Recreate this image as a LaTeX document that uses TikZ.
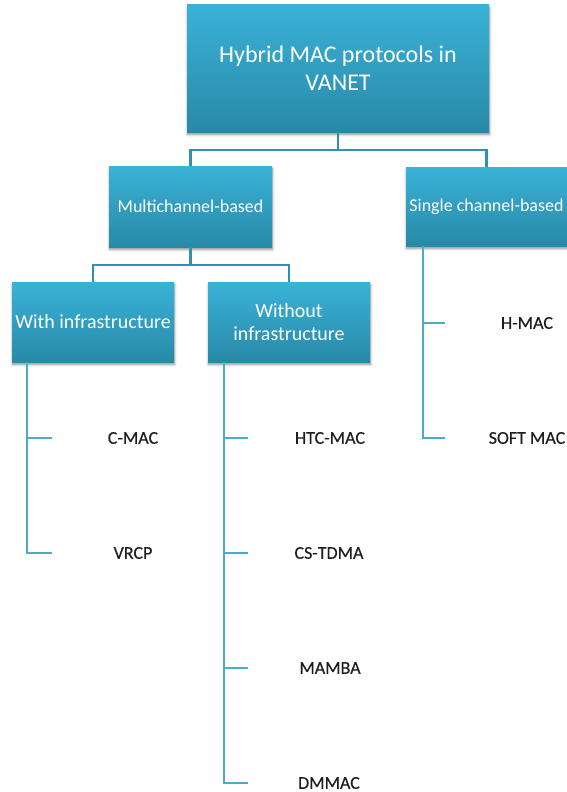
\documentclass[tikz,border=0pt]{standalone}
\usepackage{fontspec}
\setmainfont{Carlito}
\newfontfamily\leaffont[FakeBold=0.35]{Carlito}
\usetikzlibrary{shadows.blur}

\definecolor{boxtop}{RGB}{58,178,216}
\definecolor{boxbottom}{RGB}{40,137,167}
\definecolor{treeline}{RGB}{46,146,176}
\definecolor{leafline}{RGB}{75,172,198}
\definecolor{leaftext}{RGB}{30,30,30}

\tikzset{
  catbox/.style={rectangle, inner sep=2pt, align=center, text=white,
    top color=boxtop, bottom color=boxbottom,
    blur shadow={shadow xshift=0.5pt, shadow yshift=-2.5pt,
      shadow blur radius=2.5pt, shadow blur steps=6, shadow opacity=45}},
  treelink/.style={draw=treeline, line width=2.2pt},
  leaflink/.style={draw=leafline, line width=2pt},
  leaf/.style={text=leaftext, font=\leaffont\fontsize{18}{22}\selectfont, inner sep=0pt},
}

\begin{document}
\begin{tikzpicture}[x=1pt, y=-1pt]
\useasboundingbox (0,0) rectangle (567,792);

% root and category boxes
\node[catbox, minimum width=302pt, minimum height=127pt,
      font=\fontsize{24}{28}\selectfont] (root) at (338,68.5)
      {Hybrid MAC protocols in\\VANET};
\node[catbox, minimum width=163pt, minimum height=81pt,
      font=\fontsize{18}{22}\selectfont] (multi) at (190.5,206.5)
      {Multichannel-based};
\node[catbox, minimum width=161pt, minimum height=79pt,
      font=\fontsize{18}{22}\selectfont] (single) at (486.5,206.5)
      {Single channel-based};
\node[catbox, minimum width=162pt, minimum height=80pt,
      font=\fontsize{20}{24}\selectfont] (withinf) at (93,322)
      {With infrastructure};
\node[catbox, minimum width=162pt, minimum height=80pt,
      font=\fontsize{20}{23}\selectfont] (without) at (289,322)
      {Without\\infrastructure};

% tree connectors
\draw[treelink] (root.south) -- ++(0,18) -| (multi.north);
\draw[treelink] (root.south) -- ++(0,18) -| (single.north);
\draw[treelink] (multi.south) -- ++(0,18) -| (withinf.north);
\draw[treelink] (multi.south) -- ++(0,18) -| (without.north);

% protocol leaves
\node[leaf] (cmac)   at (133,438) {C-MAC};
\node[leaf] (vrcp)   at (133,553) {VRCP};
\node[leaf] (htc)    at (330,438) {HTC-MAC};
\node[leaf] (cstdma) at (329,553) {CS-TDMA};
\node[leaf] (mamba)  at (330,668) {MAMBA};
\node[leaf] (dmmac)  at (329,783) {DMMAC};
\node[leaf] (hmac)   at (527,323) {H-MAC};
\node[leaf] (soft)   at (527,438) {SOFT MAC};

% tick ends of the leaf brackets
\coordinate (cmacT)   at (52,438);
\coordinate (vrcpT)   at (52,553);
\coordinate (htcT)    at (248,438);
\coordinate (cstdmaT) at (248,553);
\coordinate (mambaT)  at (248,668);
\coordinate (dmmacT)  at (248,783);
\coordinate (hmacT)   at (445,323);
\coordinate (softT)   at (445,438);

% leaf brackets
\draw[leaflink] ([xshift=15pt]withinf.south west) |- (cmacT);
\draw[leaflink] ([xshift=15pt]withinf.south west) |- (vrcpT);
\draw[leaflink] ([xshift=16pt]without.south west) |- (htcT);
\draw[leaflink] ([xshift=16pt]without.south west) |- (cstdmaT);
\draw[leaflink] ([xshift=16pt]without.south west) |- (mambaT);
\draw[leaflink] ([xshift=16pt]without.south west) |- (dmmacT);
\draw[leaflink] ([xshift=17pt]single.south west) |- (hmacT);
\draw[leaflink] ([xshift=17pt]single.south west) |- (softT);
\end{tikzpicture}
\end{document}
